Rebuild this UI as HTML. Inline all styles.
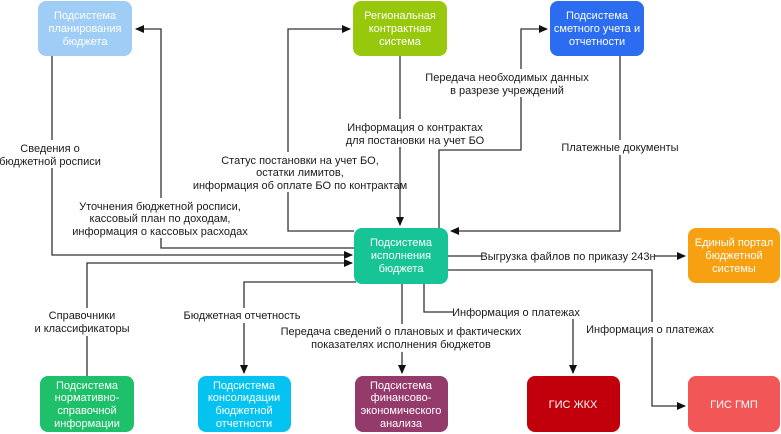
<!DOCTYPE html>
<html><head><meta charset="utf-8">
<style>
html,body{margin:0;padding:0;background:#fff;}
svg{display:block;}
text{font-family:"Liberation Sans",Arial,sans-serif;font-size:11px;}
.l{fill:#1a1a1a;text-anchor:middle;}
.b{fill:#fff;text-anchor:middle;font-size:11px;}
.ln{stroke:#333;stroke-width:1.3;fill:none;}
</style></head><body>
<svg width="781" height="434" viewBox="0 0 781 434" xmlns="http://www.w3.org/2000/svg">
<defs>
<marker id="a" markerWidth="10" markerHeight="10" refX="8" refY="4" orient="auto" markerUnits="userSpaceOnUse">
<path d="M0,0 L9,4 L0,8 z" fill="#111"/></marker>
</defs>

<!-- connectors -->
<path class="ln" d="M354,248 H161 V29 H136" marker-end="url(#a)"/>
<path class="ln" d="M52,56 V255 H352" marker-end="url(#a)"/>
<path class="ln" d="M354,231 H288 V29 H350" marker-end="url(#a)"/>
<path class="ln" d="M400,56 V225" marker-end="url(#a)"/>
<path class="ln" d="M439,228 V150 H521 V29 H547" marker-end="url(#a)"/>
<path class="ln" d="M620,56 V231 H451" marker-end="url(#a)"/>
<path class="ln" d="M448,256 H685" marker-end="url(#a)"/>
<path class="ln" d="M448,270 H652 V406 H685" marker-end="url(#a)"/>
<path class="ln" d="M424,284 V312 H573 V373" marker-end="url(#a)"/>
<path class="ln" d="M402,284 V373" marker-end="url(#a)"/>
<path class="ln" d="M356,282 H244 V373" marker-end="url(#a)"/>
<path class="ln" d="M87,376 V263 H352" marker-end="url(#a)"/>

<!-- label backgrounds -->
<g fill="#fff">
<rect x="2" y="140" width="100" height="28"/>
<rect x="80" y="198" width="162" height="40"/>
<rect x="208" y="152" width="184" height="40"/>
<rect x="334" y="119" width="164" height="28"/>
<rect x="440" y="69" width="136" height="28"/>
<rect x="560" y="140" width="120" height="15"/>
<rect x="482" y="249" width="172" height="14"/>
<rect x="454" y="305" width="124" height="14"/>
<rect x="588" y="322" width="124" height="15"/>
<rect x="280" y="324" width="244" height="28"/>
<rect x="183" y="308" width="118" height="15"/>
<rect x="34" y="308" width="96" height="28"/>
</g>

<!-- labels -->
<text class="l" x="50" y="152">Сведения о</text>
<text class="l" x="50" y="165">бюджетной росписи</text>
<text class="l" x="160" y="210">Уточнения бюджетной росписи,</text>
<text class="l" x="160" y="222">кассовый план по доходам,</text>
<text class="l" x="160" y="235">информация о кассовых расходах</text>
<text class="l" x="300" y="164">Статус постановки на учет БО,</text>
<text class="l" x="300" y="176">остатки лимитов,</text>
<text class="l" x="300" y="189">информация об оплате БО по контрактам</text>
<text class="l" x="415" y="131">Информация о контрактах</text>
<text class="l" x="415" y="144">для постановки на учет БО</text>
<text class="l" x="507" y="81">Передача необходимых данных</text>
<text class="l" x="507" y="94">в разрезе учреждений</text>
<text class="l" x="620" y="151">Платежные документы</text>
<text class="l" x="568" y="260">Выгрузка файлов по приказу 243н</text>
<text class="l" x="516" y="316">Информация о платежах</text>
<text class="l" x="650" y="333">Информация о платежах</text>
<text class="l" x="401" y="335">Передача сведений о плановых и фактических</text>
<text class="l" x="401" y="348">показателях исполнения бюджетов</text>
<text class="l" x="242" y="319">Бюджетная отчетность</text>
<text class="l" x="82" y="319">Справочники</text>
<text class="l" x="82" y="332">и классификаторы</text>

<!-- boxes -->
<rect x="38" y="1" width="94" height="55" rx="8" fill="#9fcdf6"/>
<text class="b" x="85" y="19">Подсистема</text><text class="b" x="85" y="32">планирования</text><text class="b" x="85" y="45">бюджета</text>

<rect x="353" y="1" width="94" height="55" rx="8" fill="#97c80c"/>
<text class="b" x="400" y="19">Региональная</text><text class="b" x="400" y="32">контрактная</text><text class="b" x="400" y="45">система</text>

<rect x="550" y="1" width="94" height="55" rx="8" fill="#2b6cf0"/>
<text class="b" x="597" y="19">Подсистема</text><text class="b" x="597" y="32">сметного учета и</text><text class="b" x="597" y="45">отчетности</text>

<rect x="354" y="228" width="94" height="56" rx="8" fill="#17c496"/>
<text class="b" x="401" y="246">Подсистема</text><text class="b" x="401" y="259">исполнения</text><text class="b" x="401" y="272">бюджета</text>

<rect x="688" y="228" width="92" height="55" rx="8" fill="#f7a012"/>
<text class="b" x="734" y="246">Единый портал</text><text class="b" x="734" y="259">бюджетной</text><text class="b" x="734" y="272">системы</text>

<rect x="40" y="376" width="94" height="56" rx="8" fill="#1ec06a"/>
<text class="b" x="87" y="389">Подсистема</text><text class="b" x="87" y="401">нормативно-</text><text class="b" x="87" y="414">справочной</text><text class="b" x="87" y="427">информации</text>

<rect x="198" y="376" width="93" height="56" rx="8" fill="#05c3f0"/>
<text class="b" x="244" y="389">Подсистема</text><text class="b" x="244" y="401">консолидации</text><text class="b" x="244" y="414">бюджетной</text><text class="b" x="244" y="427">отчетности</text>

<rect x="355" y="376" width="93" height="56" rx="8" fill="#953b6c"/>
<text class="b" x="401" y="389">Подсистема</text><text class="b" x="401" y="401">финансово-</text><text class="b" x="401" y="414">экономического</text><text class="b" x="401" y="427">анализа</text>

<rect x="527" y="376" width="93" height="56" rx="8" fill="#c2000b"/>
<text class="b" x="573" y="408">ГИС ЖКХ</text>

<rect x="688" y="376" width="92" height="56" rx="8" fill="#f35656"/>
<text class="b" x="734" y="408">ГИС ГМП</text>
</svg>
</body></html>
